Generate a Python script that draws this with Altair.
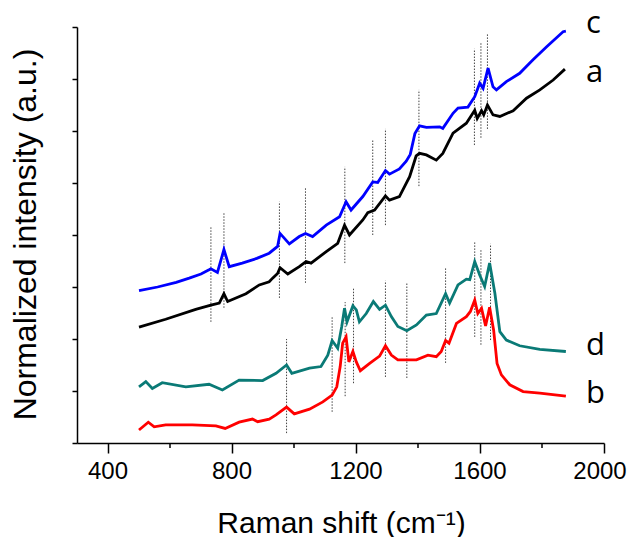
import altair as alt
import pandas as pd

# ---- spectra (Raman shift, normalized intensity) ----
wn_c = [500, 560, 620, 662, 700, 726, 732, 753, 774, 791, 833, 880, 920, 947, 955, 985,
        1017, 1037, 1060, 1104, 1147, 1168, 1184, 1222, 1254, 1270, 1295, 1308, 1340, 1362,
        1375, 1390, 1405, 1427, 1470, 1480, 1513, 1529, 1561, 1583, 1599, 1610, 1626, 1642,
        1653, 1685, 1728, 1771, 1815, 1868, 1877]
int_c = [2.93, 3.00, 3.09, 3.17, 3.25, 3.33, 3.35, 3.28, 3.72, 3.39, 3.46, 3.55, 3.65, 3.78,
         4.03, 3.83, 3.97, 4.03, 3.97, 4.19, 4.35, 4.64, 4.48, 4.74, 5.02, 5.01, 5.24, 5.17,
         5.27, 5.42, 5.55, 5.95, 6.10, 6.07, 6.08, 6.05, 6.34, 6.44, 6.46, 6.66, 6.92, 6.82,
         7.21, 6.85, 6.79, 6.95, 7.11, 7.37, 7.62, 7.91, 7.92]

wn_a = [500, 586, 683, 732, 759, 774, 786, 845, 888, 920, 931, 947, 955, 980, 1017, 1039,
        1055, 1104, 1141, 1163, 1179, 1222, 1238, 1260, 1295, 1308, 1340, 1373, 1394, 1405,
        1427, 1459, 1480, 1513, 1556, 1583, 1591, 1605, 1612, 1624, 1642, 1664, 1707, 1750,
        1793, 1836, 1874]
int_a = [2.23, 2.38, 2.57, 2.65, 2.69, 2.87, 2.72, 2.87, 3.04, 3.10, 3.17, 3.26, 3.37, 3.25,
         3.39, 3.49, 3.46, 3.68, 3.84, 4.19, 4.00, 4.29, 4.43, 4.48, 4.75, 4.67, 4.74, 5.12,
         5.52, 5.57, 5.54, 5.44, 5.57, 5.96, 6.15, 6.40, 6.24, 6.39, 6.31, 6.50, 6.31, 6.28,
         6.39, 6.63, 6.79, 6.98, 7.19]

wn_d = [500, 522, 543, 575, 651, 726, 769, 823, 899, 942, 976, 993, 1050, 1087, 1109, 1123,
        1141, 1154, 1163, 1171, 1190, 1201, 1211, 1233, 1256, 1276, 1295, 1314, 1335, 1364,
        1395, 1427, 1459, 1489, 1502, 1529, 1556, 1567, 1583, 1599, 1615, 1631, 1648, 1664,
        1685, 1728, 1793, 1877]
int_d = [1.08, 1.18, 1.05, 1.16, 1.08, 1.13, 1.02, 1.21, 1.20, 1.34, 1.50, 1.34, 1.44, 1.47,
         1.69, 1.97, 1.82, 2.24, 2.59, 2.33, 2.64, 2.56, 2.33, 2.49, 2.72, 2.57, 2.65, 2.43,
         2.24, 2.16, 2.27, 2.46, 2.49, 2.87, 2.69, 3.04, 3.15, 3.14, 3.49, 3.23, 3.01, 3.46,
         2.88, 2.14, 1.98, 1.87, 1.80, 1.76]

wn_b = [500, 530, 549, 586, 672, 748, 778, 823, 866, 883, 920, 942, 976, 1001, 1050, 1093,
        1123, 1138, 1149, 1157, 1168, 1177, 1190, 1201, 1214, 1244, 1276, 1295, 1314, 1335,
        1395, 1432, 1459, 1475, 1489, 1500, 1524, 1556, 1569, 1583, 1593, 1605, 1618, 1631,
        1644, 1655, 1669, 1696, 1739, 1793, 1877]
int_b = [0.25, 0.40, 0.31, 0.35, 0.35, 0.33, 0.28, 0.40, 0.46, 0.41, 0.46, 0.54, 0.69, 0.56,
         0.65, 0.79, 0.92, 1.08, 1.47, 1.92, 2.04, 1.56, 1.76, 1.56, 1.39, 1.53, 1.67, 1.87,
         1.69, 1.60, 1.60, 1.69, 1.66, 1.76, 1.97, 1.92, 2.30, 2.43, 2.53, 2.75, 2.49, 2.59,
         2.25, 2.61, 2.17, 1.53, 1.31, 1.12, 0.99, 0.96, 0.90]

# ---- dotted peak markers ----
up_x = [732, 774, 953, 1037, 1164, 1254, 1295, 1403, 1582, 1603, 1624]
up_lo = [2.33, 2.60, 2.79, 3.08, 3.46, 4.00, 4.19, 4.94, 5.73, 5.87, 6.04]
up_hi = [4.15, 4.42, 4.64, 4.90, 5.31, 5.83, 6.04, 6.79, 7.58, 7.69, 7.88]
lo_x = [976, 1123, 1165, 1192, 1295, 1364, 1489, 1583, 1603, 1634]
lo_lo = [0.19, 0.60, 0.90, 1.15, 1.27, 1.25, 1.54, 2.04, 1.89, 1.98]
lo_hi = [2.00, 2.44, 2.71, 2.98, 3.12, 3.08, 3.37, 3.87, 3.71, 3.83]

# ---- curve labels ----
label_text = ["c", "a", "d", "b"]
label_x = [1942, 1942, 1942, 1942]
label_y = [7.88, 6.94, 1.69, 0.77]

series_names = ["c", "a", "d", "b"]
series_colors = ["#0000ff", "#000000", "#0a7a76", "#ff0000"]

major_ticks = [400, 800, 1200, 1600, 2000]
major_labels = ["400", "800", "1200", "1600", "2000"]
minor_ticks = [600, 1000, 1400, 1800]
y_ticks = [0, 1, 2, 3, 4, 5, 6, 7, 8]

# ---- tables ----
frames = []
for name, wn, it in [("c", wn_c, int_c), ("a", wn_a, int_a), ("d", wn_d, int_d), ("b", wn_b, int_b)]:
    frames.append(pd.DataFrame({"wn": wn, "intensity": it, "series": name}))
lines_df = pd.concat(frames, ignore_index=True)

peaks_df = pd.DataFrame({"x": up_x + lo_x, "lo": up_lo + lo_lo, "hi": up_hi + lo_hi})
labels_df = pd.DataFrame({"text": label_text, "x": label_x, "y": label_y})
minor_df = pd.DataFrame({"x": minor_ticks})
ticklab_df = pd.DataFrame({"x": major_ticks[:-1], "t": major_labels[:-1]})
ticklab_last_df = pd.DataFrame({"x": major_ticks[-1:], "t": major_labels[-1:]})

W, H = 527, 416
x_scale = alt.Scale(domain=[300, 2000], nice=False, zero=False)
y_scale = alt.Scale(domain=[0, 8], nice=False, zero=False)

x_axis = alt.Axis(
    values=major_ticks, grid=False, tickSize=10, tickWidth=1.5, tickColor="black",
    domainColor="black", domainWidth=1.5, labels=False,
    title="Raman shift (cm\u207b\u00b9)", titleFont="Liberation Sans", titleFontSize=30,
    titleFontWeight="normal", titleColor="black", titleBaseline="alphabetic",
    titleAlign="center", titleX=264, titleY=89,
)
y_axis = alt.Axis(
    values=y_ticks, grid=False, tickSize=5, tickWidth=1.5, tickColor="black",
    domainColor="black", domainWidth=1.5, labels=False,
    title="Normalized intensity (a.u.)", titleFont="Liberation Sans", titleFontSize=32,
    titleFontWeight="normal", titleColor="black", titleAngle=270,
    titleBaseline="alphabetic", titleAlign="center", titleX=-42, titleY=207,
)

rules = alt.Chart(peaks_df).mark_rule(
    strokeDash=[1.5, 1.5], strokeWidth=1, color="#444444"
).encode(
    x=alt.X("x:Q", scale=x_scale, axis=x_axis),
    y=alt.Y("lo:Q", scale=y_scale, axis=y_axis),
    y2="hi:Q",
)

lines = alt.Chart(lines_df).mark_line(strokeWidth=2.8).encode(
    x=alt.X("wn:Q", scale=x_scale),
    y=alt.Y("intensity:Q", scale=y_scale),
    color=alt.Color("series:N", scale=alt.Scale(domain=series_names, range=series_colors), legend=None),
)

minor = alt.Chart(minor_df).mark_rule(color="black", strokeWidth=1.5).encode(
    x=alt.X("x:Q", scale=x_scale),
    y=alt.value(H),
    y2=alt.value(H + 5),
)

tick_style = dict(font="Liberation Sans", fontSize=24, align="center",
                  baseline="alphabetic", color="black")
ticklabs = alt.Chart(ticklab_df).mark_text(**tick_style).encode(
    x=alt.X("x:Q", scale=x_scale), y=alt.value(H + 36), text="t:N",
)
ticklab_last = alt.Chart(ticklab_last_df).mark_text(dx=-4, **tick_style).encode(
    x=alt.X("x:Q", scale=x_scale), y=alt.value(H + 36), text="t:N",
)

labels = alt.Chart(labels_df).mark_text(
    font="Open Sans", fontSize=31, align="left", baseline="alphabetic", color="black"
).encode(
    x=alt.X("x:Q", scale=x_scale),
    y=alt.Y("y:Q", scale=y_scale),
    text="text:N",
)

chart = alt.layer(rules, lines, minor, ticklabs, ticklab_last, labels).properties(
    width=W, height=H,
    autosize=alt.AutoSizeParams(type="none"),
    padding={"left": 69, "top": 19, "right": 23, "bottom": 94},
).configure_view(stroke=None)

chart.save("out.html", embed_options={"renderer": "svg", "actions": False})
